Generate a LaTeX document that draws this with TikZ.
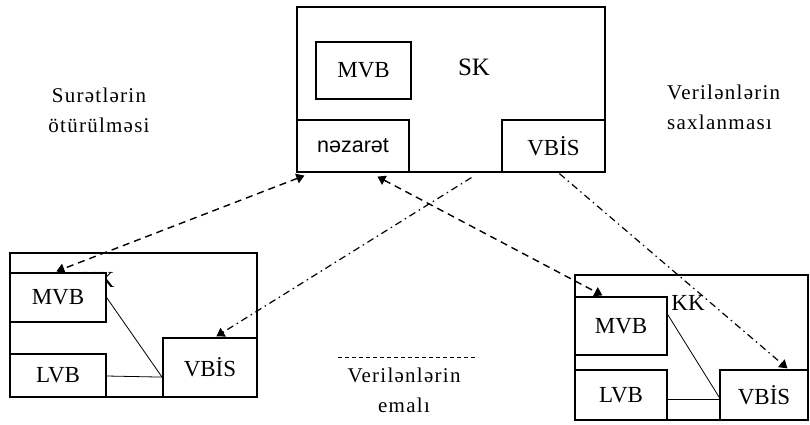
\documentclass[tikz,border=0pt]{standalone}
\usepackage{fontspec}
\setmainfont{Liberation Serif}
\newfontfamily\sansf{Liberation Sans}
\newfontfamily\spacedf[LetterSpace=6]{Liberation Serif}
\usetikzlibrary{arrows.meta,calc}
\begin{document}
\begin{tikzpicture}[x=1pt,y=-1pt,
 box/.style={draw,line width=1.2pt,fill=white,inner sep=0pt,font=\fontsize{23}{26}\selectfont},
 lbl/.style={font=\spacedf\fontsize{21}{30}\selectfont,inner sep=0pt},
 copyline/.style={line width=1.4pt,dash pattern=on 7pt off 5pt,{Triangle[width=10pt,length=8pt]}-{Triangle[width=10pt,length=8pt]}},
 storeline/.style={line width=1.2pt,dash pattern=on 7pt off 4pt on 1.5pt off 4pt,-{Triangle[width=10pt,length=8pt]}},
 link/.style={line width=0.8pt},
 legend/.style={line width=0.9pt,dash pattern=on 4pt off 3pt}]
\useasboundingbox (0,0) rectangle (810,425);

% SK
\node[box,minimum width=308pt,minimum height=165pt] (sk) at (451,89.5) {};
\node[box,minimum width=95pt,minimum height=57pt] (smvb) at (363.5,70.5) {MVB};
\node[inner sep=0pt,font=\fontsize{25}{28}\selectfont] (sklbl) at (474,67) {SK};
\node[box,minimum width=112pt,minimum height=52pt,font=\sansf\fontsize{21.5}{24}\selectfont] (nez) at (353,146) {nəzarət};
\node[box,minimum width=103pt,minimum height=52pt] (svb) at (553.5,146) {VBİS};

% left KK
\node[box,minimum width=247pt,minimum height=144pt] (lkk) at (133.5,325) {};
\node[inner sep=0pt,font=\fontsize{23}{26}\selectfont] (lkklbl) at (98,280) {KK};
\node[box,minimum width=96pt,minimum height=49pt] (lmvb) at (58,297.5) {MVB};
\node[box,minimum width=96pt,minimum height=43pt] (llvb) at (58,375.5) {LVB};
\node[box,minimum width=94pt,minimum height=59pt] (lvb) at (210,367.5) {VBİS};
\draw[link] (lmvb.east) -- ($(lvb.south west)+(0,-20)$);
\draw[link] ($(llvb.east)+(0,0.5)$) -- ($(lvb.south west)+(0,-20.5)$);

% right KK
\node[box,minimum width=233pt,minimum height=145pt] (rkk) at (691.5,347.5) {};
\node[box,minimum width=92pt,minimum height=58pt] (rmvb) at (621,326) {MVB};
\node[inner sep=0pt,font=\fontsize{23}{26}\selectfont] (rkklbl) at (688,303) {KK};
\node[box,minimum width=92pt,minimum height=50pt] (rlvb) at (621,395) {LVB};
\node[box,minimum width=88pt,minimum height=50pt] (rvb) at (764,395) {VBİS};
\draw[link] ($(rmvb.north east)+(0,18)$) -- ($(rvb.south west)+(0,-23)$);
\draw[link] ($(rlvb.east)+(0,4)$) -- ($(rvb.west)+(0,4)$);

% labels
\node[lbl,align=center] (sur) at (99,110) {Surətlərin\\ötürülməsi};
\node[lbl,align=left,anchor=west] (sax) at (667,107) {Verilənlərin\\saxlanması};
\node[lbl,align=center] (emal) at (404,390) {Verilənlərin\\emalı};
\coordinate (lg1) at (338,357);
\coordinate (lg2) at (478,357);
\draw[legend] (lg1) -- (lg2);

% connectors
\draw[copyline] ($(nez.south west)+(8,3)$) -- ($(lmvb.north west)+(47,-1)$);
\draw[copyline] ($(nez.south west)+(81,4)$) -- ($(rmvb.north west)+(28,-1)$);
\draw[storeline] ($(svb.south west)+(-30,5)$) -- ($(lvb.north west)+(54,-1)$);
\draw[storeline] ($(svb.south west)+(58,1)$) -- ($(rvb.north west)+(68,-1)$);
\end{tikzpicture}
\end{document}
